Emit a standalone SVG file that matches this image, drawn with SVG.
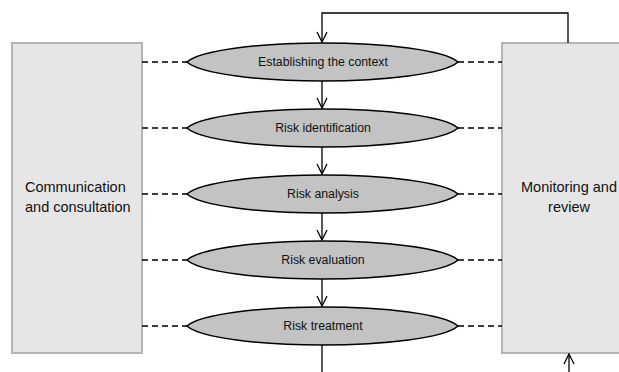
<svg xmlns="http://www.w3.org/2000/svg" width="619" height="372" viewBox="0 0 619 372">
<style>
.box{fill:#e6e6e6;stroke:#b4b4b4;stroke-width:2}
.ell{fill:#c3c3c3;stroke:#000;stroke-width:1.5}
.et{font-family:"Liberation Sans",Arial,sans-serif;font-size:12.3px;fill:#111;text-anchor:middle}
.bt{font-family:"Liberation Sans",Arial,sans-serif;font-size:14.5px;fill:#111}
.dash{stroke:#000;stroke-width:1.5;stroke-dasharray:6,4;fill:none}
.ln{stroke:#000;stroke-width:1.3;fill:none}
</style>
<defs>
<marker id="arr" viewBox="0 0 12 12" refX="11" refY="6" markerWidth="12" markerHeight="12" markerUnits="userSpaceOnUse" orient="auto">
<path d="M1,1 L11,6 L1,11" fill="none" stroke="#000" stroke-width="1.3"/>
</marker>
<path id="lens" d="M-135.5,0 C-122,-12 -62,-19 0,-19 C62,-19 122,-12 135.5,0 C122,12 62,19 0,19 C-62,19 -122,12 -135.5,0 Z"/>
</defs>
<g id="comm">
<rect class="box" x="12" y="43" width="130" height="310"/>
<text class="bt" x="25" y="192">Communication</text>
<text class="bt" x="25" y="212">and consultation</text>
</g>
<g id="monitor">
<rect class="box" x="502" y="43" width="130" height="310"/>
<text class="bt" x="569" y="192" text-anchor="middle">Monitoring and</text>
<text class="bt" x="569" y="212" text-anchor="middle">review</text>
</g>
<g id="connectors">
<path class="ln" d="M568,43 V13 H322 V42" marker-end="url(#arr)"/>
<path class="ln" d="M322,81 V108" marker-end="url(#arr)"/>
<path class="ln" d="M322,147 V174" marker-end="url(#arr)"/>
<path class="ln" d="M322,213 V240" marker-end="url(#arr)"/>
<path class="ln" d="M322,279 V306" marker-end="url(#arr)"/>
<path class="ln" d="M322,345 V372"/>
<path class="ln" d="M569,372 V354" marker-end="url(#arr)"/>
<path class="dash" d="M142,62 H187 M142,128 H187 M142,194 H187 M142,260 H187 M142,326 H187"/>
<path class="dash" d="M458,62 H502 M458,128 H502 M458,194 H502 M458,260 H502 M458,326 H502"/>
</g>
<g id="context"><use href="#lens" class="ell" x="322.5" y="62"/><text class="et" x="323" y="66">Establishing the context</text></g>
<g id="identification"><use href="#lens" class="ell" x="322.5" y="128"/><text class="et" x="323" y="132">Risk identification</text></g>
<g id="analysis"><use href="#lens" class="ell" x="322.5" y="194"/><text class="et" x="323" y="198">Risk analysis</text></g>
<g id="evaluation"><use href="#lens" class="ell" x="322.5" y="260"/><text class="et" x="323" y="264">Risk evaluation</text></g>
<g id="treatment"><use href="#lens" class="ell" x="322.5" y="326"/><text class="et" x="323" y="330">Risk treatment</text></g>
</svg>
